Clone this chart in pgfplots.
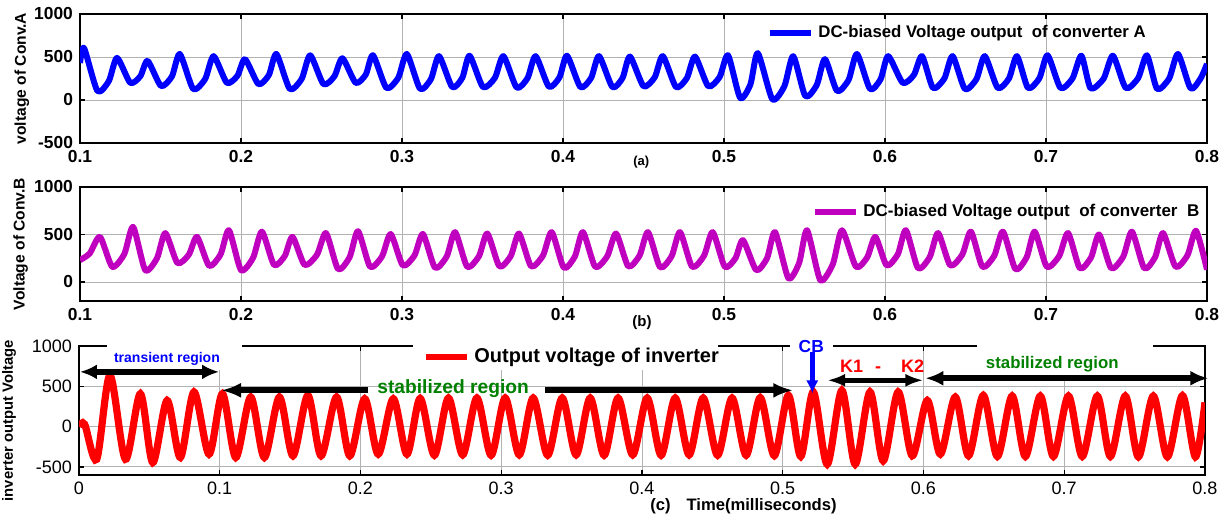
\documentclass[border=0pt]{standalone}
\usepackage{pgfplots}
\pgfplotsset{compat=1.18}
\usepackage{fontspec}
\setmainfont{Liberation Sans}
\usetikzlibrary{arrows.meta}
\definecolor{mblue}{rgb}{0,0,1}
\definecolor{mmag}{rgb}{0.75,0,0.75}
\definecolor{mred}{rgb}{1,0,0}
\definecolor{mgreen}{rgb}{0,0.5,0}
\pgfplotsset{
  mstyle/.style={
    scale only axis, anchor=north west, clip mode=individual,
    tick align=inside, xtick pos=both, ytick pos=both,
    xticklabel pos=lower, yticklabel pos=left,
    major tick length=2.5pt,
    axis line style={line width=0.7pt},
    every tick/.style={black, line width=0.6pt},
    grid=major,
    major grid style={gray!60, line width=0.45pt},
    legend style={draw=none, fill=none, inner sep=0pt, anchor=west},
    legend cell align=left,
    legend image code/.code={\draw[##1, line width=3pt] (0pt,0pt) -- (20.5pt,0pt);},
  }
}
\begin{document}
\begin{tikzpicture}
\useasboundingbox (0,0) rectangle (613.5pt,-259.5pt);
% ---------------- (a)
\begin{axis}[mstyle, at={(40pt,-7pt)}, width=563.5pt, height=64.5pt,
  xmin=0.1, xmax=0.8, ymin=-500, ymax=1000,
  xtick={0.1,0.2,0.3,0.4,0.5,0.6,0.7,0.8},
  xticklabels={0.1,0.2,0.3,0.4,0.5,0.6,0.7,0.8},
  ytick={-500,0,500,1000}, yticklabels={-500,0,500,1000},
  ticklabel style={font=\bfseries\fontsize{8.7}{10}\selectfont},
  ylabel={voltage of Conv.A},
  ylabel style={at={(axis description cs:-0.0515,0.5)}, anchor=center, font=\bfseries\fontsize{7.8}{9}\selectfont},
  legend style={at={(axis description cs:0.6096,0.853)}, font=\bfseries\fontsize{8.4}{10}\selectfont},
]
\addplot[mblue, line width=3pt, line join=round, smooth, tension=0.4] coordinates {
(0.1000,430)
(0.1025,605) (0.1108,105) (0.1179,220)
(0.1230,490) (0.1312,200) (0.1375,277)
(0.1420,455) (0.1503,163) (0.1571,275)
(0.1620,535) (0.1703,128) (0.1777,243)
(0.1830,510) (0.1912,200) (0.1978,282)
(0.2025,475) (0.2108,185) (0.2173,290)
(0.2220,535) (0.2303,128) (0.2377,246)
(0.2430,520) (0.2512,185) (0.2580,275)
(0.2630,485) (0.2712,200) (0.2775,296)
(0.2820,520) (0.2903,140) (0.2977,259)
(0.3030,535) (0.3112,130) (0.3180,244)
(0.3230,510) (0.3312,150) (0.3375,260)
(0.3420,515) (0.3503,150) (0.3577,258)
(0.3630,510) (0.3712,145) (0.3780,255)
(0.3830,510) (0.3912,155) (0.3978,263)
(0.4025,515) (0.4108,150) (0.4175,258)
(0.4224,510) (0.4307,150) (0.4370,257)
(0.4416,505) (0.4500,160) (0.4570,265)
(0.4620,510) (0.4702,150) (0.4770,257)
(0.4820,505) (0.4902,160) (0.4973,268)
(0.5025,520) (0.5100,25) (0.5164,181)
(0.5210,545) (0.5300,10) (0.5375,160)
(0.5430,510) (0.5505,45) (0.5576,174)
(0.5627,475) (0.5702,105) (0.5774,234)
(0.5826,535) (0.5907,128) (0.5973,243)
(0.6020,510) (0.6110,200) (0.6180,293)
(0.6230,510) (0.6298,140) (0.6369,251)
(0.6420,510) (0.6496,128) (0.6568,243)
(0.6620,510) (0.6700,140) (0.6770,251)
(0.6820,510) (0.6888,140) (0.6959,254)
(0.7010,520) (0.7090,140) (0.7165,253)
(0.7220,515) (0.7277,135) (0.7358,249)
(0.7416,515) (0.7495,140) (0.7572,254)
(0.7627,520) (0.7690,128) (0.7765,250)
(0.7820,535) (0.7898,135) (0.7960,250)
(0.8000,420)
};
\addlegendentry{DC-biased Voltage output\ \ of converter A}
\node[font=\bfseries\fontsize{6.5}{8}\selectfont] at (axis description cs:0.498,-0.147) {(a)};
\end{axis}
% ---------------- (b)
\begin{axis}[mstyle, at={(40pt,-93.5pt)}, width=563.5pt, height=57pt,
  xmin=0.1, xmax=0.8, ymin=-200, ymax=1000,
  xtick={0.1,0.2,0.3,0.4,0.5,0.6,0.7,0.8},
  xticklabels={0.1,0.2,0.3,0.4,0.5,0.6,0.7,0.8},
  ytick={0,500,1000}, yticklabels={0,500,1000},
  ticklabel style={font=\bfseries\fontsize{8.7}{10}\selectfont},
  ylabel={Voltage of Conv.B},
  ylabel style={at={(axis description cs:-0.0526,0.5)}, anchor=center, font=\bfseries\fontsize{7.8}{9}\selectfont},
  legend style={at={(axis description cs:0.6495,0.781)}, font=\bfseries\fontsize{8.5}{10}\selectfont},
]
\addplot[mmag, line width=3pt, line join=round, smooth, tension=0.4] coordinates {
(0.1000,230) (0.1060,300)
(0.1124,475) (0.1200,160) (0.1275,294)
(0.1330,580) (0.1405,125) (0.1478,250)
(0.1530,515) (0.1605,200) (0.1676,288)
(0.1727,475) (0.1802,170) (0.1873,290)
(0.1925,545) (0.2000,125) (0.2075,255)
(0.2130,530) (0.2205,180) (0.2272,274)
(0.2320,475) (0.2395,180) (0.2472,287)
(0.2528,515) (0.2603,135) (0.2675,263)
(0.2727,535) (0.2802,160) (0.2876,270)
(0.2930,505) (0.3005,175) (0.3078,281)
(0.3130,505) (0.3205,150) (0.3278,270)
(0.3330,525) (0.3405,160) (0.3478,272)
(0.3530,510) (0.3605,165) (0.3676,275)
(0.3727,510) (0.3802,165) (0.3876,280)
(0.3930,525) (0.4005,150) (0.4074,270)
(0.4124,525) (0.4200,160) (0.4275,272)
(0.4330,510) (0.4405,165) (0.4476,280)
(0.4528,525) (0.4603,155) (0.4675,273)
(0.4727,525) (0.4802,160) (0.4876,277)
(0.4930,525) (0.5005,160) (0.5071,250)
(0.5118,440) (0.5200,125) (0.5268,253)
(0.5317,525) (0.5400,40) (0.5467,202)
(0.5516,545) (0.5598,20) (0.5676,188)
(0.5733,545) (0.5820,160) (0.5890,261)
(0.5940,475) (0.6010,175) (0.6080,293)
(0.6130,545) (0.6205,145) (0.6278,263)
(0.6330,515) (0.6405,175) (0.6480,289)
(0.6534,530) (0.6605,160) (0.6679,278)
(0.6733,530) (0.6810,135) (0.6880,261)
(0.6930,530) (0.7005,160) (0.7082,274)
(0.7137,515) (0.7210,145) (0.7280,259)
(0.7330,500) (0.7405,145) (0.7480,268)
(0.7534,530) (0.7610,145) (0.7678,263)
(0.7727,515) (0.7805,160) (0.7879,282)
(0.7932,540) (0.8000,130)
};
\addlegendentry{DC-biased Voltage output\ \ of converter\ \ B}
\node[font=\bfseries\fontsize{7.5}{9}\selectfont] at (axis description cs:0.4987,-0.193) {(b)};
\end{axis}
% ---------------- (c)
\begin{axis}[mstyle, at={(39.5pt,-173pt)}, width=563pt, height=64.5pt,
  xmin=0, xmax=0.8, ymin=-600, ymax=1000,
  xtick={0,0.1,0.2,0.3,0.4,0.5,0.6,0.7,0.8},
  xticklabels={0,0.1,0.2,0.3,0.4,0.5,0.6,0.7,0.8},
  ytick={-500,0,500,1000}, yticklabels={-500,0,500,1000},
  ticklabel style={font=\fontsize{9}{10}\selectfont},
  ylabel={inverter output Voltage},
  ylabel style={at={(axis description cs:-0.0622,0.42)}, anchor=center, font=\bfseries\fontsize{7.4}{9}\selectfont},
  legend style={at={(axis description cs:0.3055,0.915)}, font=\bfseries\fontsize{10}{12}\selectfont},
]
\fill[white] (axis cs:0.0199,1030) rectangle (axis cs:0.1159,700);
\fill[white] (axis cs:0.2374,1030) rectangle (axis cs:0.4542,700);
\fill[white] (axis cs:0.5053,1030) rectangle (axis cs:0.5359,880);
\fill[white] (axis cs:0.6382,1030) rectangle (axis cs:0.7633,600);
\addplot[mred, line width=3.6pt, smooth] coordinates {
(0,0) (0.004,30) (0.0126,-405) (0.022,637) (0.033,-405) (0.0436,408)
(0.0524,-446) (0.0626,325) (0.072,-383) (0.0817,430) (0.0924,-342)
(0.1019,408) (0.1114,-383) (0.122,367) (0.1317,-383) (0.1424,367)
(0.152,-362) (0.1626,388) (0.172,-362) (0.183,367) (0.1924,-362)
(0.203,346) (0.2126,-342) (0.2233,346) (0.233,-342) (0.2424,350)
(0.2525,-355) (0.2625,355) (0.2726,-350) (0.2827,355) (0.2928,-355)
(0.3028,355) (0.3128,-350) (0.3227,355) (0.333,-355) (0.3433,355)
(0.3532,-350) (0.3632,355) (0.3731,-355) (0.383,355) (0.3934,-350)
(0.4037,355) (0.4136,-355) (0.4236,355) (0.4335,-350) (0.4435,355)
(0.4537,-355) (0.464,355) (0.474,-355) (0.484,360) (0.494,-360)
(0.504,388) (0.5128,-370) (0.5217,430) (0.5316,-467) (0.542,450)
(0.5515,-467) (0.562,430) (0.5714,-425) (0.582,430) (0.592,-362)
(0.6027,325) (0.612,-342) (0.6226,367) (0.632,-362) (0.6425,388)
(0.6525,-370) (0.663,380) (0.6724,-370) (0.683,380) (0.6923,-370)
(0.703,380) (0.7128,-370) (0.7235,380) (0.7328,-370) (0.7434,380)
(0.7527,-375) (0.7633,380) (0.7733,-375) (0.784,385) (0.7932,-375)
(0.8,300)
};
\addlegendentry{Output voltage of inverter}
% annotations
\node[font=\bfseries\fontsize{7}{8}\selectfont, text=mblue] at (axis cs:0.0625,838) {transient region};
\draw[line width=2.8pt, {Latex[length=8.5pt,width=7.5pt]}-{Latex[length=8.5pt,width=7.5pt]}] (axis cs:0.0007,679) -- (axis cs:0.0995,679);
\node[font=\bfseries\fontsize{9.6}{11}\selectfont, text=mgreen] at (axis cs:0.2658,470) {stabilized region};
\draw[line width=3pt, -{Latex[length=10pt,width=7.5pt]}] (axis cs:0.2054,450) -- (axis cs:0.1009,450);
\draw[line width=3pt, -{Latex[length=10pt,width=7.5pt]}] (axis cs:0.3312,450) -- (axis cs:0.5075,450);
\node[font=\bfseries\fontsize{8.7}{10}\selectfont, text=mblue] at (axis cs:0.5203,995) {CB};
\draw[mblue, line width=2.2pt, -{Latex[length=6.5pt,width=6.3pt]}] (axis cs:0.521,925) -- (axis cs:0.521,412);
\node[font=\bfseries\fontsize{9}{10}\selectfont, text=mred] at (axis cs:0.5707,750) {K1\hspace{6pt}-\hspace{10pt}K2};
\draw[line width=2.5pt, {Latex[length=9pt,width=6.5pt]}-{Latex[length=9pt,width=6.5pt]}] (axis cs:0.5316,575) -- (axis cs:0.5999,575);
\node[font=\bfseries\fontsize{8.4}{10}\selectfont, text=mgreen] at (axis cs:0.6915,775) {stabilized region};
\draw[line width=2.8pt, {Latex[length=9pt,width=7.5pt]}-{Latex[length=9pt,width=7.5pt]}] (axis cs:0.6013,600) -- (axis cs:0.8024,600);
\node[font=\bfseries\fontsize{8.3}{10}\selectfont, anchor=west, inner sep=0pt] at (axis description cs:0.507,-0.24) {(c)\hspace{8pt}Time(milliseconds)};
\end{axis}
\end{tikzpicture}
\end{document}
